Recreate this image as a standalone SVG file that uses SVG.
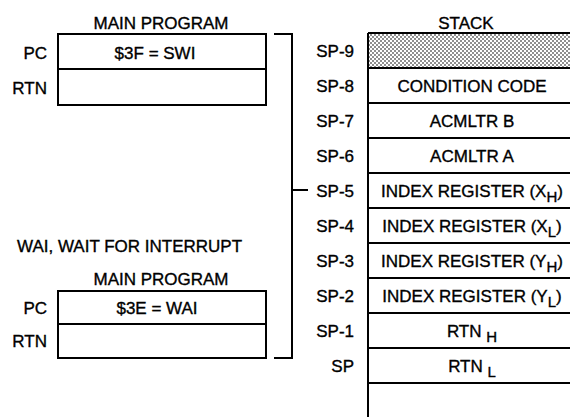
<svg xmlns="http://www.w3.org/2000/svg" width="570" height="417" viewBox="0 0 570 417">
<style>
text{font-family:"Liberation Sans",Arial,sans-serif;font-size:17px;fill:#000;stroke:#000;stroke-width:0.35}
.box{fill:#fff;stroke:#000;stroke-width:2}
.ln{fill:none;stroke:#000;stroke-width:2}
.r{text-anchor:end}
.m{text-anchor:middle}
.sub{font-size:15px}
</style>
<defs>
<pattern id="dots" width="4" height="4" patternUnits="userSpaceOnUse">
<rect width="4" height="4" fill="#fff"/>
<circle cx="1" cy="1" r="0.8" fill="#000"/>
<circle cx="3" cy="3" r="0.8" fill="#000"/>
</pattern>
</defs>
<rect width="570" height="417" fill="#fff"/>

<g id="swi-program">
<text x="161" y="29" class="m">MAIN PROGRAM</text>
<rect x="58" y="34" width="208" height="71" class="box"/>
<line x1="58" y1="69" x2="266" y2="69" class="ln"/>
<text x="47" y="59" class="r">PC</text>
<text x="155" y="59" class="m">$3F = SWI</text>
<text x="47" y="94" class="r">RTN</text>
</g>

<g id="wai-program">
<text x="17" y="252">WAI, WAIT FOR INTERRUPT</text>
<text x="161" y="285" class="m">MAIN PROGRAM</text>
<rect x="58" y="291" width="208" height="67" class="box"/>
<line x1="58" y1="324" x2="266" y2="324" class="ln"/>
<text x="47" y="314" class="r">PC</text>
<text x="157" y="314" class="m">$3E = WAI</text>
<text x="47" y="347" class="r">RTN</text>
</g>

<g id="connectors">
<polyline points="274,34 292,34 292,358 274,358" class="ln"/>
<line x1="292" y1="190" x2="308" y2="190" class="ln"/>
</g>

<g id="stack">
<text x="466" y="29" class="m">STACK</text>
<rect x="368" y="33" width="220" height="35" fill="url(#dots)"/>
<line x1="368" y1="33" x2="368" y2="417" class="ln"/>
<g class="ln">
<line x1="368" y1="33" x2="580" y2="33"/>
<line x1="368" y1="68" x2="580" y2="68"/>
<line x1="368" y1="103" x2="580" y2="103"/>
<line x1="368" y1="138" x2="580" y2="138"/>
<line x1="368" y1="173" x2="580" y2="173"/>
<line x1="368" y1="208" x2="580" y2="208"/>
<line x1="368" y1="243" x2="580" y2="243"/>
<line x1="368" y1="278" x2="580" y2="278"/>
<line x1="368" y1="313" x2="580" y2="313"/>
<line x1="368" y1="348" x2="580" y2="348"/>
<line x1="368" y1="383" x2="580" y2="383"/>
</g>
<text x="354" y="57" class="r">SP-9</text>
<text x="354" y="92" class="r">SP-8</text>
<text x="354" y="127" class="r">SP-7</text>
<text x="354" y="162" class="r">SP-6</text>
<text x="354" y="197" class="r">SP-5</text>
<text x="354" y="232" class="r">SP-4</text>
<text x="354" y="267" class="r">SP-3</text>
<text x="354" y="302" class="r">SP-2</text>
<text x="354" y="337" class="r">SP-1</text>
<text x="354" y="372" class="r">SP</text>
<text x="472" y="92" class="m">CONDITION CODE</text>
<text x="472" y="127" class="m">ACMLTR B</text>
<text x="472" y="162" class="m">ACMLTR A</text>
<text x="472" y="197" class="m">INDEX REGISTER (X<tspan class="sub" dy="5">H</tspan><tspan dy="-5">)</tspan></text>
<text x="472" y="232" class="m">INDEX REGISTER (X<tspan class="sub" dy="5">L</tspan><tspan dy="-5">)</tspan></text>
<text x="472" y="267" class="m">INDEX REGISTER (Y<tspan class="sub" dy="5">H</tspan><tspan dy="-5">)</tspan></text>
<text x="472" y="302" class="m">INDEX REGISTER (Y<tspan class="sub" dy="5">L</tspan><tspan dy="-5">)</tspan></text>
<text x="472" y="337" class="m">RTN <tspan class="sub" dy="5">H</tspan></text>
<text x="472" y="372" class="m">RTN <tspan class="sub" dy="5">L</tspan></text>
</g>
</svg>
